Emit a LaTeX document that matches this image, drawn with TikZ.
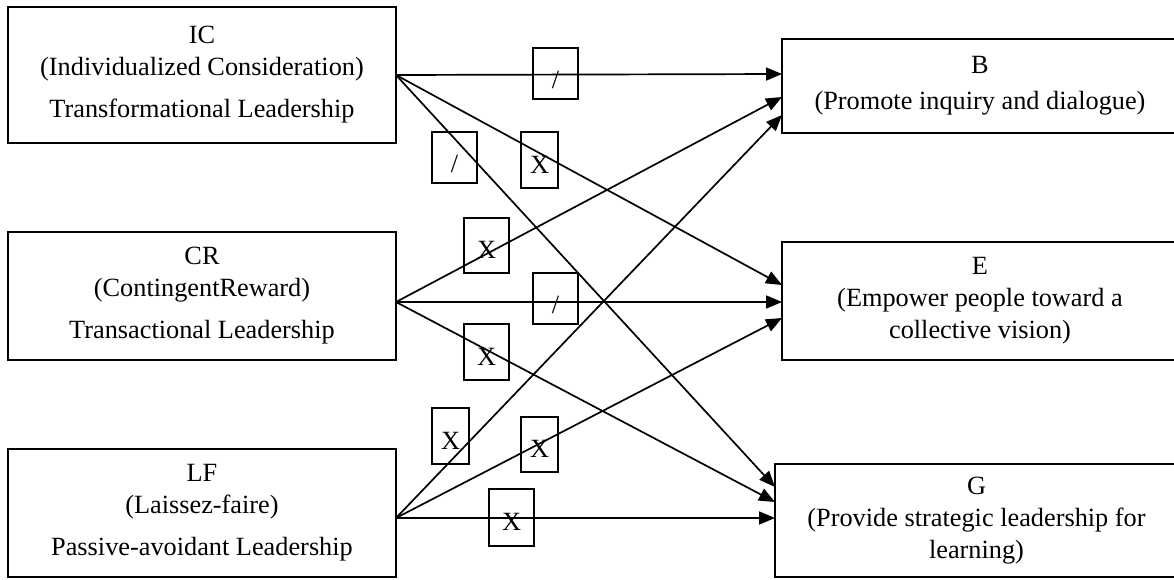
\documentclass[tikz,border=0pt]{standalone}
\usepackage{fontspec}
\setmainfont{Liberation Serif}
\usetikzlibrary{arrows.meta}
\tikzset{
  bigbox/.style={draw, line width=2.2pt, inner sep=0pt, align=center,
    font=\fontsize{26.3}{32}\selectfont},
  markbox/.style={draw, line width=1.9pt, inner sep=0pt,
    text height=26pt, text depth=0pt,
    font=\fontsize{26.3}{32}\selectfont},
  slashbox/.style={markbox, text height=30pt},
  link/.style={line width=1.7pt, -{Triangle[length=16pt,width=13pt]}}
}
\begin{document}
\begin{tikzpicture}[x=1pt,y=-1pt]
\useasboundingbox (0,0) rectangle (1174,579);
% left boxes
\node[bigbox, minimum width=388pt, minimum height=136pt] (IC) at (202,75)
  {IC\\(Individualized Consideration)\\[10pt]Transformational Leadership};
\node[bigbox, minimum width=388pt, minimum height=128pt] (CR) at (202,296)
  {CR\\(ContingentReward)\\[10pt]Transactional Leadership};
\node[bigbox, minimum width=388pt, minimum height=128pt] (LF) at (202,513)
  {LF\\(Laissez-faire)\\[10pt]Passive-avoidant Leadership};
% right boxes
\node[bigbox, minimum width=396pt, minimum height=94pt] (B) at (980,86)
  {B\\[4pt](Promote inquiry and dialogue)};
\node[bigbox, minimum width=396pt, minimum height=118pt] (E) at (980,301)
  {E\\(Empower people toward a\\collective vision)};
\node[bigbox, minimum width=403pt, minimum height=113pt] (G) at (976.5,520.5)
  {G\\(Provide strategic leadership for\\learning)};
% ports
\coordinate (ICo) at (396,75);
\coordinate (CRo) at (396,302);
\coordinate (LFo) at (396,518);
\coordinate (B1) at (782,74);
\coordinate (B2) at (782,97);
\coordinate (B3) at (782,115);
\coordinate (E1) at (782,285);
\coordinate (E2) at (782,302);
\coordinate (E3) at (782,318);
\coordinate (G1) at (775,487);
\coordinate (G2) at (775,502);
\coordinate (G3) at (775,518);
% connectors
\draw[link] (ICo) -- (B1);
\draw[link] (ICo) -- (E1);
\draw[link] (ICo) -- (G1);
\draw[link] (CRo) -- (B2);
\draw[link] (CRo) -- (E2);
\draw[link] (CRo) -- (G2);
\draw[link] (LFo) -- (B3);
\draw[link] (LFo) -- (E3);
\draw[link] (LFo) -- (G3);
% marks
\node[slashbox, minimum width=45pt, minimum height=51pt] (m1) at (555.5,73.5) {/};
\node[slashbox, minimum width=45pt, minimum height=51pt] (m2) at (454.5,157.5) {/};
\node[markbox, minimum width=37pt, minimum height=56pt] (m3) at (539.5,160) {X};
\node[markbox, minimum width=45pt, minimum height=55pt] (m4) at (486.5,245.5) {X};
\node[slashbox, minimum width=45pt, minimum height=51pt] (m5) at (555.5,298.5) {/};
\node[markbox, minimum width=45pt, minimum height=56pt] (m6) at (486.5,352) {X};
\node[markbox, minimum width=37pt, minimum height=56pt] (m7) at (450.5,436) {X};
\node[markbox, minimum width=37pt, minimum height=55pt] (m8) at (539.5,444.5) {X};
\node[markbox, minimum width=45pt, minimum height=57pt] (m9) at (511.5,517.5) {X};
\end{tikzpicture}
\end{document}
